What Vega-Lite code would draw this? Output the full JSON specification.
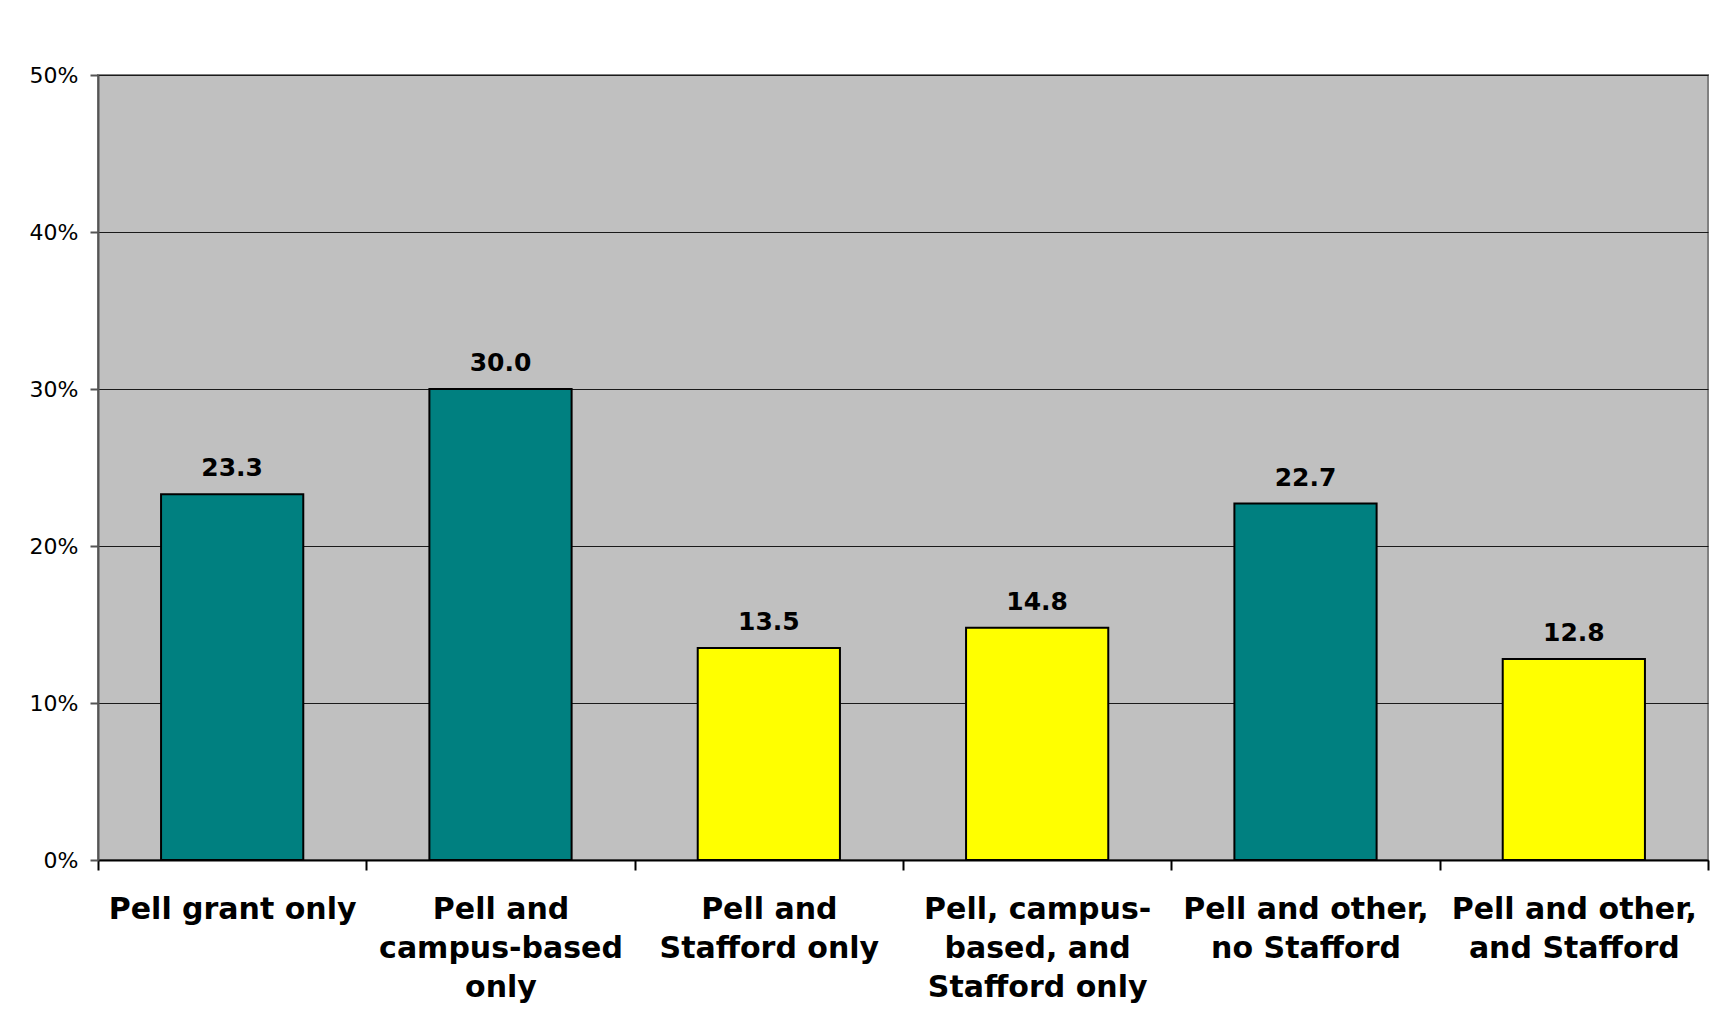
{
  "$schema": "https://vega.github.io/schema/vega-lite/v6.json",
  "autosize": "none",
  "width": 1610,
  "height": 785,
  "padding": {"left": 98, "top": 75, "right": 24, "bottom": 164},
  "background": "white",
  "config": {
    "view": {"fill": "#c0c0c0", "stroke": "#808080", "strokeWidth": 2},
    "font": "DejaVu Sans"
  },
  "data": {
    "values": [
      {"category": "Pell grant only", "value": 23.3, "stafford": "no"},
      {"category": "Pell and|campus-based|only", "value": 30.0, "stafford": "no"},
      {"category": "Pell and|Stafford only", "value": 13.5, "stafford": "yes"},
      {"category": "Pell, campus-|based, and|Stafford only", "value": 14.8, "stafford": "yes"},
      {"category": "Pell and other,|no Stafford", "value": 22.7, "stafford": "no"},
      {"category": "Pell and other,|and Stafford", "value": 12.8, "stafford": "yes"}
    ]
  },
  "encoding": {
    "x": {
      "field": "category",
      "type": "nominal",
      "sort": null,
      "scale": {"paddingInner": 0, "paddingOuter": 0},
      "axis": {
        "title": null,
        "labelAngle": 0,
        "labelExpr": "split(datum.label, '|')",
        "labelFont": "DejaVu Sans",
        "labelFontSize": 30,
        "labelFontWeight": "bold",
        "labelColor": "black",
        "labelLineHeight": 39,
        "labelBaseline": "top",
        "labelPadding": 24,
        "labelLimit": 400,
        "tickBand": "extent",
        "tickSize": 10,
        "tickColor": "black",
        "tickWidth": 2,
        "domainColor": "black",
        "domainWidth": 2,
        "grid": false
      }
    },
    "y": {
      "field": "value",
      "type": "quantitative",
      "scale": {"domain": [0, 50]},
      "axis": {
        "title": null,
        "values": [0, 10, 20, 30, 40, 50],
        "labelExpr": "datum.value + '%'",
        "labelFont": "DejaVu Sans",
        "labelFontSize": 22,
        "labelColor": "black",
        "labelPadding": 12,
        "tickSize": 8,
        "tickColor": "#555555",
        "tickWidth": 2,
        "domainColor": "#555555",
        "domainWidth": 2,
        "grid": true,
        "gridColor": "#1a1a1a",
        "gridWidth": 1
      }
    }
  },
  "layer": [
    {
      "mark": {"type": "bar", "width": {"band": 0.53}, "stroke": "black", "strokeWidth": 2},
      "encoding": {
        "color": {
          "field": "stafford",
          "type": "nominal",
          "scale": {"domain": ["no", "yes"], "range": ["#008080", "#ffff00"]},
          "legend": null
        }
      }
    },
    {
      "mark": {"type": "text", "baseline": "alphabetic", "dy": -18, "fontSize": 25, "fontWeight": "bold", "color": "black", "font": "DejaVu Sans"},
      "encoding": {
        "text": {"field": "value", "type": "quantitative", "format": ".1f"}
      }
    }
  ]
}
